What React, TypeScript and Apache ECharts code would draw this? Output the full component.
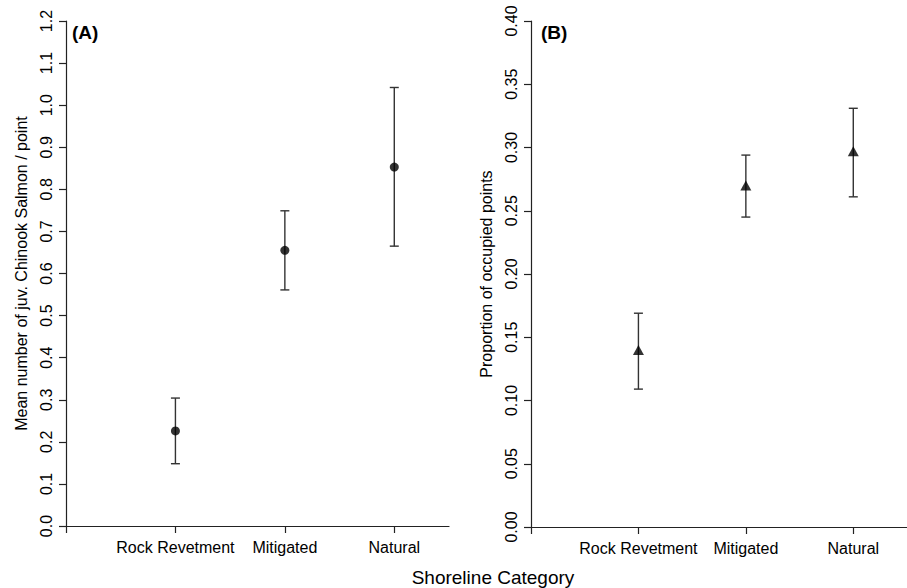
import React, { useEffect, useRef } from "react";
import * as echarts from "echarts";

const categories = ["Rock Revetment", "Mitigated", "Natural"];
const catPositions = [1, 2, 3];
const xTickPositions = [0, 1, 2, 3];

// Panel A: mean number of juvenile Chinook salmon per point
const meanA = [0.226, 0.655, 0.853];
const lowerA = [0.148, 0.561, 0.665];
const upperA = [0.304, 0.749, 1.042];

// Panel B: proportion of occupied points
const propB = [0.14, 0.27, 0.297];
const lowerB = [0.109, 0.245, 0.261];
const upperB = [0.169, 0.294, 0.331];

const yTitleA = "Mean number of juv. Chinook Salmon / point";
const yTitleB = "Proportion of occupied points";
const xTitle = "Shoreline Category";

export default function App() {
  const ref = useRef<HTMLDivElement>(null);

  useEffect(() => {
    if (!ref.current) return;
    const chart = echarts.init(ref.current, null, { renderer: "svg" });
    const font = "'Liberation Sans', Arial, Helvetica, sans-serif";
    const ink = "#222";
    const lineStyle = { color: ink, width: 1.2 };

    const errRender = (_params: any, api: any) => {
      const x = api.value(0);
      const lo = api.value(1);
      const hi = api.value(2);
      const pLo = api.coord([x, lo]);
      const pHi = api.coord([x, hi]);
      const cap = 4.5;
      const style = { stroke: "#333", lineWidth: 1.4 };
      return {
        type: "group",
        children: [
          { type: "line", shape: { x1: pLo[0], y1: pLo[1], x2: pHi[0], y2: pHi[1] }, style },
          { type: "line", shape: { x1: pLo[0] - cap, y1: pLo[1], x2: pLo[0] + cap, y2: pLo[1] }, style },
          { type: "line", shape: { x1: pHi[0] - cap, y1: pHi[1], x2: pHi[0] + cap, y2: pHi[1] }, style },
        ],
      };
    };

    const makeX = (gridIndex: number) => ({
      type: "value",
      gridIndex,
      min: 0,
      max: 3.5,
      interval: 1,
      axisLine: { show: true, onZero: false, lineStyle },
      axisTick: { show: true, length: 7, customValues: xTickPositions, lineStyle },
      axisLabel: {
        customValues: catPositions,
        formatter: (v: number) => categories[catPositions.indexOf(v)] ?? "",
        fontSize: 16,
        color: "#000",
        margin: 13,
        fontFamily: font,
      },
      splitLine: { show: false },
    });

    const makeY = (gridIndex: number, max: number, interval: number, digits: number, name: string, gap: number) => ({
      type: "value",
      gridIndex,
      min: 0,
      max,
      interval,
      name,
      nameLocation: "middle",
      nameGap: gap,
      nameRotate: 90,
      nameTextStyle: { fontSize: 16, color: "#000", fontFamily: font },
      axisLine: { show: true, onZero: false, lineStyle },
      axisTick: { show: true, length: 7, lineStyle },
      axisLabel: {
        rotate: 90,
        formatter: (v: number) => v.toFixed(digits),
        fontSize: 16,
        color: "#000",
        margin: 12,
        fontFamily: font,
      },
      splitLine: { show: false },
    });

    const idx = catPositions;

    chart.setOption({
      animation: false,
      backgroundColor: "#fff",
      grid: [
        { left: 66, top: 21, width: 383, height: 505 },
        { left: 531, top: 21, width: 383, height: 506 },
      ],
      xAxis: [makeX(0), makeX(1)],
      yAxis: [
        makeY(0, 1.2, 0.1, 1, yTitleA, 37),
        makeY(1, 0.4, 0.05, 2, yTitleB, 37),
      ],
      graphic: [
        { type: "text", left: 72, top: 23, style: { text: "(A)", fontSize: 19, fontWeight: "bold", fill: "#000", fontFamily: font } },
        { type: "text", left: 541, top: 23, style: { text: "(B)", fontSize: 19, fontWeight: "bold", fill: "#000", fontFamily: font } },
        { type: "text", x: 493, y: 577, style: { text: xTitle, fontSize: 19, fill: "#000", fontFamily: font, align: "center", verticalAlign: "middle" } },
      ],
      series: [
        {
          type: "custom",
          xAxisIndex: 0,
          yAxisIndex: 0,
          renderItem: errRender,
          data: idx.map((x, i) => [x, lowerA[i], upperA[i]]),
          z: 1,
        },
        {
          type: "scatter",
          xAxisIndex: 0,
          yAxisIndex: 0,
          symbol: "circle",
          symbolSize: 9,
          itemStyle: { color: "#000" },
          data: idx.map((x, i) => [x, meanA[i]]),
          z: 2,
        },
        {
          type: "custom",
          xAxisIndex: 1,
          yAxisIndex: 1,
          renderItem: errRender,
          data: idx.map((x, i) => [x, lowerB[i], upperB[i]]),
          z: 1,
        },
        {
          type: "scatter",
          xAxisIndex: 1,
          yAxisIndex: 1,
          symbol: "triangle",
          symbolSize: [11, 10],
          itemStyle: { color: "#000" },
          data: idx.map((x, i) => [x, propB[i]]),
          z: 2,
        },
      ],
    });

    return () => chart.dispose();
  }, []);

  return (
    <div
      ref={ref}
      style={{ position: "fixed", left: 0, top: 0, width: 907, height: 588, background: "#fff" }}
    />
  );
}
